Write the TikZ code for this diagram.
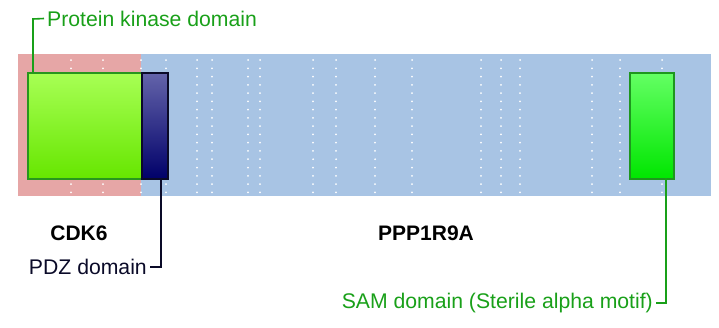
\documentclass[tikz,border=0pt]{standalone}
\usepackage{fontspec}
\setmainfont{Liberation Sans}
\begin{document}
\begin{tikzpicture}[x=1pt,y=-1pt,
  lbl/.style={font=\fontsize{21.2}{24}\selectfont, inner sep=0pt},
  gname/.style={font=\fontsize{21}{24}\selectfont\bfseries, inner sep=0pt},
  dom/.style={draw, line width=1.5pt, inner sep=0pt, anchor=north west, minimum height=106pt},
  lead/.style={line width=1.6pt}]
\definecolor{pinkbg}{RGB}{230,166,166}
\definecolor{bluebg}{RGB}{168,196,228}
\definecolor{lbgreen}{RGB}{25,160,25}
\definecolor{kinborder}{RGB}{40,150,30}
\definecolor{samborder}{RGB}{30,150,30}
\definecolor{navyln}{RGB}{10,10,40}
\definecolor{kintop}{RGB}{168,255,85}
\definecolor{kinbot}{RGB}{102,230,0}
\definecolor{pdztop}{RGB}{100,100,170}
\definecolor{pdzbot}{RGB}{0,0,105}
\definecolor{samtop}{RGB}{100,255,100}
\definecolor{sambot}{RGB}{0,230,0}
\useasboundingbox (0,0) rectangle (719,327);
% backgrounds
\fill[pinkbg] (18,54) rectangle (141,196);
\fill[bluebg] (141,54) rectangle (711,196);
% dotted columns
\foreach \x in {71,103,141,166,197,212,248,260,313,336,375,412,481,501,520,592,620,662}{
  \foreach \k in {0,...,16}{
    \fill[white] (\x,{60+8.27*\k}) circle (1.0);
  }
}
% domains
\node[dom, draw=kinborder, minimum width=114pt, top color=kintop, bottom color=kinbot] (kin) at (27,72) {};
\node[dom, draw=navyln, minimum width=26pt, top color=pdztop, bottom color=pdzbot] (pdz) at (141,72) {};
\node[dom, draw=samborder, minimum width=44pt, top color=samtop, bottom color=sambot] (sam) at (629,72) {};
% labels
\node[lbl, text=lbgreen, anchor=west] (kinl) at (47,18.5) {Protein kinase domain};
\node[lbl, text=navyln, anchor=east] (pdzl) at (147,267) {PDZ domain};
\node[lbl, text=lbgreen, anchor=east] (saml) at (653,303) {SAM domain (Sterile alpha motif)};
\node[gname] (cdk) at (79,233) {CDK6};
\node[gname] (ppp) at (426,233) {PPP1R9A};
% leader lines
\coordinate (k1) at (33,19);
\draw[lead, lbgreen] (33,72) -- (k1) -- ([xshift=-3pt]kinl.west);
\draw[lead, navyln] (161,178) |- ([xshift=3pt]pdzl.east);
\draw[lead, lbgreen] (666,178) |- ([xshift=3pt]saml.east);
\end{tikzpicture}
\end{document}
